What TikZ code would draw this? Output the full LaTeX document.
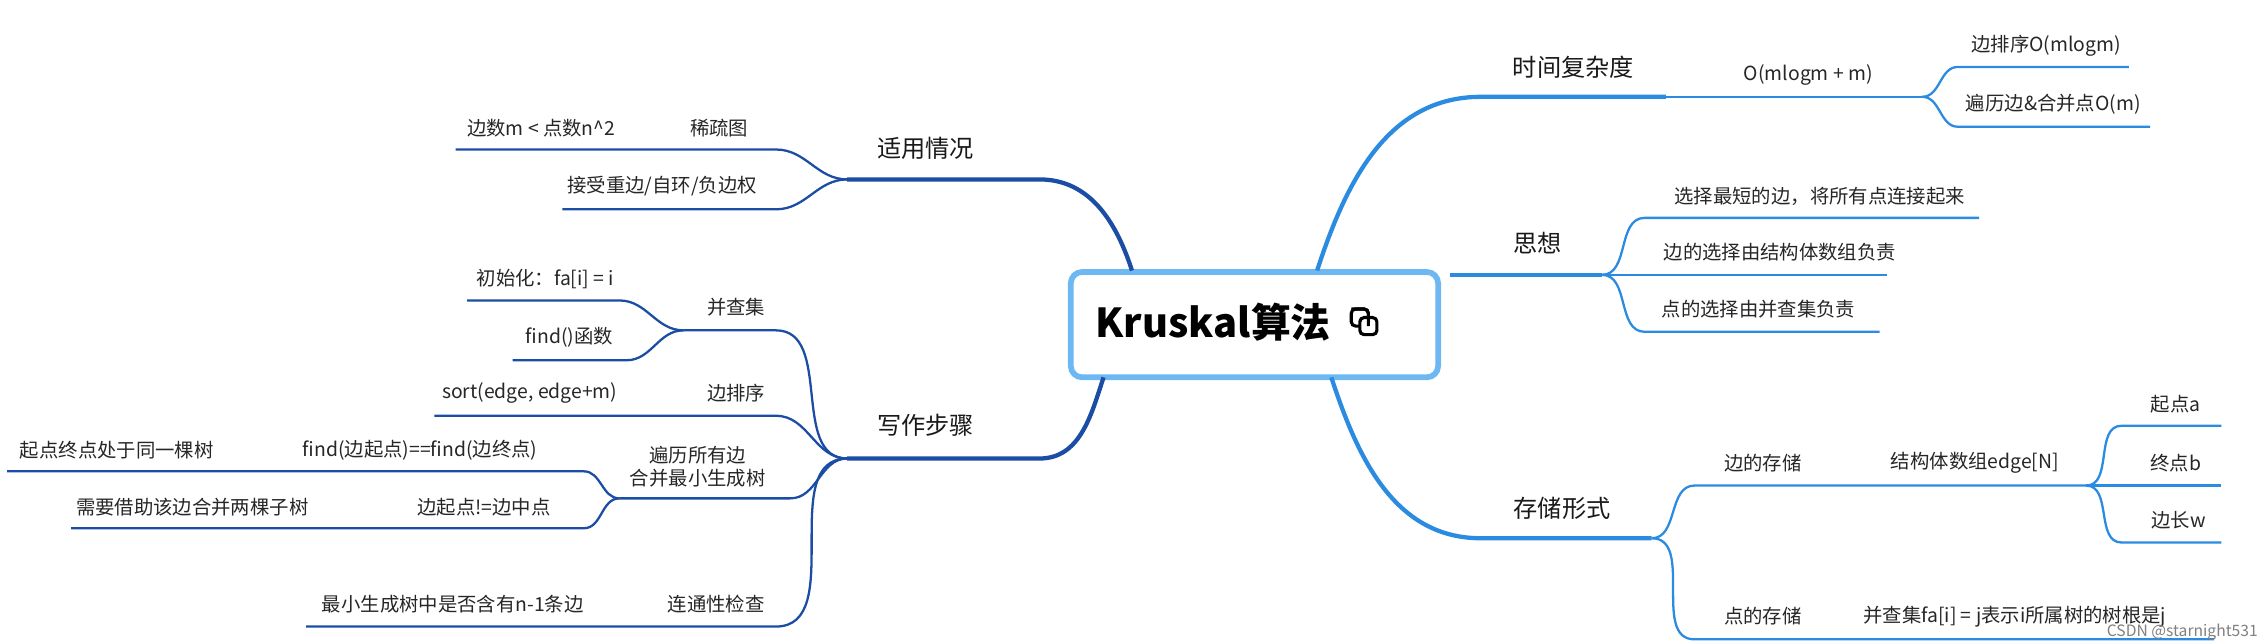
\documentclass[tikz,border=0pt]{standalone}
\usepackage{fontspec}
\setmainfont{Noto Sans CJK SC}
\begin{document}
\begin{tikzpicture}[x=0.5pt,y=-0.5pt,
  lt/.style={font=\fontsize{6.8}{8}\selectfont,inner sep=0pt,text=black!85},
  mt/.style={font=\fontsize{8.5}{10}\selectfont,inner sep=0pt,text=black!90},
  rl/.style={draw=rc,line width=0.8pt},
  rm/.style={draw=rc,line width=1.5pt},
  ll/.style={draw=lc,line width=0.8pt},
  lm/.style={draw=lc,line width=1.5pt}]
\definecolor{rc}{HTML}{2A8BE0}
\definecolor{lc}{HTML}{1A4DA3}
\definecolor{bc}{HTML}{6DB8F2}
\useasboundingbox (0,0) rectangle (1590,451);
% center
\node[draw=bc,line width=2pt,rounded corners=4pt,fill=white,minimum width=129pt,minimum height=37pt] (C) at (881,228) {};
\node[font=\fontsize{14}{16}\selectfont\bfseries,inner sep=0pt] (title) at (852,226) {Kruskal算法};
\node[inner sep=0pt,minimum size=8pt] (ic) at (958,226) {};
\draw[line width=1.1pt,rounded corners=1.5pt] (949,217) rectangle (961,229);
\draw[line width=1.1pt,rounded corners=1.5pt,fill=white] (955,223) rectangle (967,235);
\draw[line width=1.1pt,rounded corners=1.5pt] (949,217) -- (961,217) -- (961,229);
% ---------- right: time
\coordinate (ct) at (925,190);
\coordinate (T1) at (1040,68); \coordinate (T2) at (1170,68);
\node[mt] (t) at (1105,47) {时间复杂度};
\draw[rm] (ct) to[out=72,in=180] (T1) -- (T2);
\coordinate (O2) at (1350,68);
\node[lt] (o) at (1270,53) {O(mlogm + m)};
\draw[rl] (T2) -- (O2);
\coordinate (E1a) at (1375,47); \coordinate (E1b) at (1495,47);
\coordinate (E2a) at (1375,89); \coordinate (E2b) at (1510,89);
\node[lt] (e1) at (1437,32) {边排序O(mlogm)};
\node[lt] (e2) at (1442,73) {遍历边\&合并点O(m)};
\draw[rl] (O2) to[out=0,in=180] (E1a) -- (E1b);
\draw[rl] (O2) to[out=0,in=180] (E2a) -- (E2b);
% thought
\coordinate (S1) at (1018,193); \coordinate (S2) at (1125,193);
\node[mt] (s) at (1080,171) {思想};
\draw[rm] (S1) -- (S2);
\coordinate (Sa1) at (1155,153); \coordinate (Sa2) at (1390,153);
\coordinate (Sb1) at (1155,193); \coordinate (Sb2) at (1325,193);
\coordinate (Sc1) at (1155,233); \coordinate (Sc2) at (1320,233);
\node[lt] (sa) at (1278,138) {选择最短的边，将所有点连接起来};
\node[lt] (sb) at (1250,177) {边的选择由结构体数组负责};
\node[lt] (sc) at (1235,217) {点的选择由并查集负责};
\draw[rl] (S2) to[out=0,in=180] (Sa1) -- (Sa2);
\draw[rl] (S2) -- (Sb1) -- (Sb2);
\draw[rl] (S2) to[out=0,in=180] (Sc1) -- (Sc2);
% storage
\coordinate (cb) at (935,265);
\coordinate (R1) at (1040,378); \coordinate (R2) at (1160,378);
\node[mt] (r) at (1097,357) {存储形式};
\draw[rm] (cb) to[out=-72,in=180] (R1) -- (R2);
\coordinate (P1) at (1190,341); \coordinate (P1b) at (1290,341); \coordinate (P1c) at (1465,341);
\node[lt] (p1) at (1238,325) {边的存储};
\node[lt] (p1x) at (1387,325) {结构体数组edge[N]};
\draw[rl] (R2) to[out=0,in=180] (P1) -- (P1b) -- (P1c);
\coordinate (Q1a) at (1490,299); \coordinate (Q1b) at (1560,299);
\coordinate (Q2a) at (1490,341); \coordinate (Q2b) at (1560,341);
\coordinate (Q3a) at (1490,381); \coordinate (Q3b) at (1560,381);
\node[lt] (q1) at (1528,284) {起点a};
\node[lt] (q2) at (1528,325) {终点b};
\node[lt] (q3) at (1530,365) {边长w};
\draw[rl] (P1c) to[out=0,in=180] (Q1a) -- (Q1b);
\draw[rl] (P1c) -- (Q2a) -- (Q2b);
\draw[rl] (P1c) to[out=0,in=180] (Q3a) -- (Q3b);
\coordinate (P2) at (1190,449); \coordinate (P2b) at (1290,449); \coordinate (P2c) at (1555,449);
\node[lt] (p2) at (1238,433) {点的存储};
\node[lt] (p2x) at (1415,433) {并查集fa[i] = j表示i所属树的树根是j};
\draw[rl] (R2) to[out=0,in=180] (P2) -- (P2b) -- (P2c);
% ---------- left: applicable
\coordinate (cl) at (795,190);
\coordinate (A1) at (730,126); \coordinate (A2) at (595,126);
\node[mt] (a) at (650,104) {适用情况};
\draw[lm] (cl) to[out=108,in=0] (A1) -- (A2);
\coordinate (Aa1) at (545,105); \coordinate (Aa2) at (468,105); \coordinate (Aa3) at (320,105);
\coordinate (Ab1) at (545,147); \coordinate (Ab2) at (395,147);
\node[lt] (aa) at (505,90) {稀疏图};
\node[lt] (aax) at (380,90) {边数m < 点数n\^{}2};
\node[lt] (ab) at (465,131) {接受重边/自环/负边权};
\draw[ll] (A2) to[out=180,in=0] (Aa1) -- (Aa2) -- (Aa3);
\draw[ll] (A2) to[out=180,in=0] (Ab1) -- (Ab2);
% writing steps
\coordinate (cbl) at (775,265);
\coordinate (W1) at (730,322); \coordinate (W2) at (595,322);
\node[mt] (w) at (650,299) {写作步骤};
\draw[lm] (cbl) to[out=-108,in=0] (W1) -- (W2);
\coordinate (U1) at (545,232); \coordinate (U2) at (480,232);
\node[lt] (u) at (517,216) {并查集};
\draw[ll] (W2) to[out=180,in=0] (U1) -- (U2);
\coordinate (Ua1) at (435,211); \coordinate (Ua2) at (328,211);
\coordinate (Ub1) at (440,253); \coordinate (Ub2) at (360,253);
\node[lt] (ua) at (383,196) {初始化：fa[i] = i};
\node[lt] (ub) at (400,237) {find()函数};
\draw[ll] (U2) to[out=180,in=0] (Ua1) -- (Ua2);
\draw[ll] (U2) to[out=180,in=0] (Ub1) -- (Ub2);
\coordinate (V1) at (545,292); \coordinate (V2) at (480,292); \coordinate (V3) at (305,292);
\node[lt] (v) at (517,276) {边排序};
\node[lt] (vx) at (372,276) {sort(edge, edge+m)};
\draw[ll] (W2) to[out=180,in=0] (V1) -- (V2) -- (V3);
\coordinate (X1) at (555,350); \coordinate (X2) at (435,350);
\node[lt,align=center] (x) at (490,328) {遍历所有边\\合并最小生成树};
\draw[ll] (W2) to[out=180,in=0] (X1) -- (X2);
\coordinate (Xa1) at (410,331); \coordinate (Xa2) at (200,331); \coordinate (Xa3) at (5,331);
\coordinate (Xb1) at (410,371); \coordinate (Xb2) at (275,371); \coordinate (Xb3) at (50,371);
\node[lt] (xa) at (295,316) {find(边起点)==find(边终点)};
\node[lt] (xax) at (82,316) {起点终点处于同一棵树};
\node[lt] (xb) at (340,356) {边起点!=边中点};
\node[lt] (xbx) at (135,356) {需要借助该边合并两棵子树};
\draw[ll] (X2) to[out=180,in=0] (Xa1) -- (Xa2) -- (Xa3);
\draw[ll] (X2) to[out=180,in=0] (Xb1) -- (Xb2) -- (Xb3);
\coordinate (Y1) at (545,440); \coordinate (Y2) at (460,440); \coordinate (Y3) at (215,440);
\node[lt] (y) at (503,424) {连通性检查};
\node[lt] (yx) at (318,424) {最小生成树中是否含有n-1条边};
\draw[ll] (W2) to[out=180,in=0] (Y1) -- (Y2) -- (Y3);
\node[font=\fontsize{5.5}{6}\selectfont,text=black!50,inner sep=0pt,anchor=east] (csdn) at (1586,444) {CSDN @starnight531};
\end{tikzpicture}
\end{document}
